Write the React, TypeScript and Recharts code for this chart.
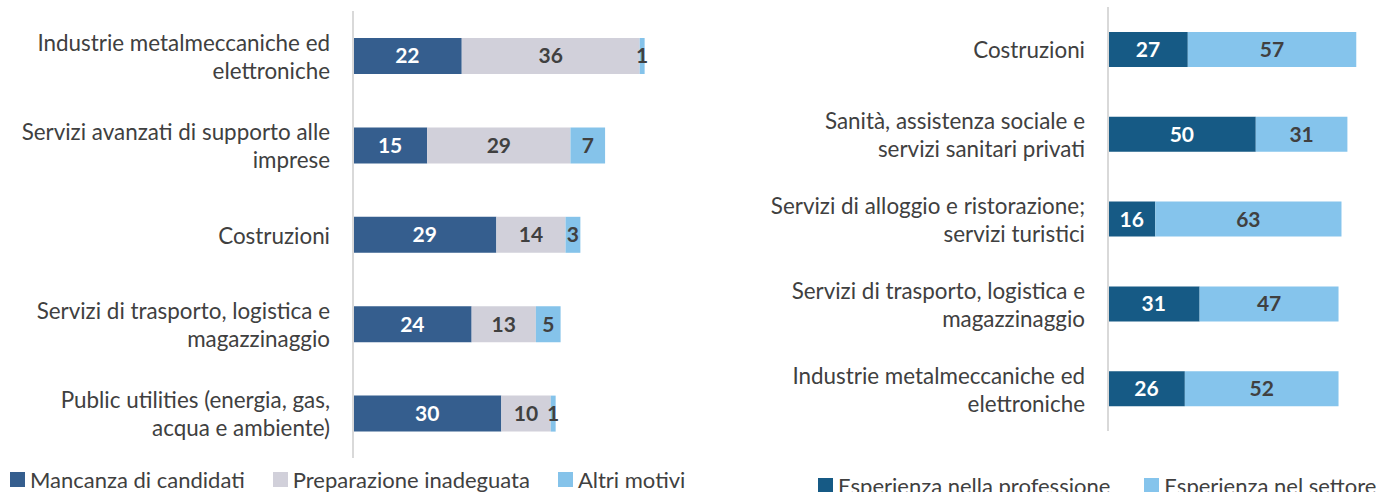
import { BarChart, Bar, XAxis, YAxis, LabelList } from "recharts";

const motiviCategories = [
  "Industrie metalmeccaniche ed\nelettroniche",
  "Servizi avanzati di supporto alle\nimprese",
  "Costruzioni",
  "Servizi di trasporto, logistica e\nmagazzinaggio",
  "Public utilities (energia, gas,\nacqua e ambiente)",
];
const mancanza = [22, 15, 29, 24, 30];
const preparazione = [36, 29, 14, 13, 10];
const altri = [1, 7, 3, 5, 1];

const esperienzaCategories = [
  "Costruzioni",
  "Sanità, assistenza sociale e\nservizi sanitari privati",
  "Servizi di alloggio e ristorazione;\nservizi turistici",
  "Servizi di trasporto, logistica e\nmagazzinaggio",
  "Industrie metalmeccaniche ed\nelettroniche",
];
const professione = [27, 50, 16, 31, 26];
const settore = [57, 31, 63, 47, 52];

const leftData = motiviCategories.map((name, i) => ({
  name,
  mancanza: mancanza[i],
  preparazione: preparazione[i],
  altri: altri[i],
}));

const rightData = esperienzaCategories.map((name, i) => ({
  name,
  professione: professione[i],
  settore: settore[i],
}));

const FONT = "Lato, 'Open Sans', sans-serif";
const TEXT = "#404040";

const WrapTick = (props: any) => {
  const { x, y, payload } = props;
  const lines = String(payload.value).split("\n");
  const lh = 28;
  const y0 = y - ((lines.length - 1) * lh) / 2;
  return (
    <text
      x={x}
      y={y0}
      textAnchor="end"
      dominantBaseline="central"
      fill={TEXT}
      fontSize={22.4}
      fontFamily={FONT}
    >
      {lines.map((l, i) => (
        <tspan key={i} x={x} y={y0 + i * lh}>
          {l}
        </tspan>
      ))}
    </text>
  );
};

const labelStyle = (fill: string) => ({
  fill,
  fontSize: 21,
  fontWeight: 700,
  fontFamily: FONT,
});

const LegendItem = ({ color, label, gap }: { color: string; label: string; gap: number }) => (
  <div style={{ display: "flex", alignItems: "center", marginRight: gap }}>
    <div style={{ width: 15, height: 15, background: color, marginRight: 5 }} />
    <span style={{ fontSize: 22, color: TEXT, fontFamily: FONT, whiteSpace: "nowrap" }}>{label}</span>
  </div>
);

export default function App() {
  return (
    <div
      style={{
        position: "absolute",
        left: 0,
        top: 0,
        width: 1376,
        height: 492,
        background: "#fff",
        overflow: "hidden",
      }}
    >
      <div style={{ position: "absolute", left: 0, top: 0 }}>
        <BarChart
          width={720}
          height={470}
          data={leftData}
          layout="vertical"
          margin={{ top: 11, right: 21, bottom: 12, left: 0 }}
          barSize={36}
        >
          <XAxis type="number" domain={[0, 70]} hide />
          <YAxis
            type="category"
            dataKey="name"
            width={353}
            axisLine={{ stroke: "#D9D9D9", strokeWidth: 2 }}
            tickLine={false}
            tickSize={0}
            tickMargin={23}
            tick={<WrapTick />}
            interval={0}
          />
          <Bar dataKey="mancanza" stackId="a" fill="#355E8E" isAnimationActive={false}>
            <LabelList dataKey="mancanza" position="center" style={labelStyle("#FFFFFF")} />
          </Bar>
          <Bar dataKey="preparazione" stackId="a" fill="#D1D0DA" isAnimationActive={false}>
            <LabelList dataKey="preparazione" position="center" style={labelStyle(TEXT)} />
          </Bar>
          <Bar dataKey="altri" stackId="a" fill="#85C3EA" isAnimationActive={false}>
            <LabelList dataKey="altri" position="center" style={labelStyle(TEXT)} />
          </Bar>
        </BarChart>
      </div>

      <div style={{ position: "absolute", left: 700, top: 0 }}>
        <BarChart
          width={676}
          height={440}
          data={rightData}
          layout="vertical"
          margin={{ top: 7, right: 2, bottom: 9, left: 0 }}
          barSize={35}
        >
          <XAxis type="number" domain={[0, 90]} hide />
          <YAxis
            type="category"
            dataKey="name"
            width={408}
            axisLine={{ stroke: "#D9D9D9", strokeWidth: 2 }}
            tickLine={false}
            tickSize={0}
            tickMargin={23}
            tick={<WrapTick />}
            interval={0}
          />
          <Bar dataKey="professione" stackId="b" fill="#165A85" isAnimationActive={false}>
            <LabelList dataKey="professione" position="center" style={labelStyle("#FFFFFF")} />
          </Bar>
          <Bar dataKey="settore" stackId="b" fill="#85C4EC" isAnimationActive={false}>
            <LabelList dataKey="settore" position="center" style={labelStyle(TEXT)} />
          </Bar>
        </BarChart>
      </div>

      <div style={{ position: "absolute", left: 10, top: 466, display: "flex" }}>
        <LegendItem color="#355E8E" label="Mancanza di candidati" gap={28} />
        <LegendItem color="#D1D0DA" label="Preparazione inadeguata" gap={28} />
        <LegendItem color="#85C3EA" label="Altri motivi" gap={0} />
      </div>
      <div style={{ position: "absolute", left: 818, top: 472, display: "flex" }}>
        <LegendItem color="#165A85" label="Esperienza nella professione" gap={34} />
        <LegendItem color="#85C4EC" label="Esperienza nel settore" gap={0} />
      </div>
    </div>
  );
}
